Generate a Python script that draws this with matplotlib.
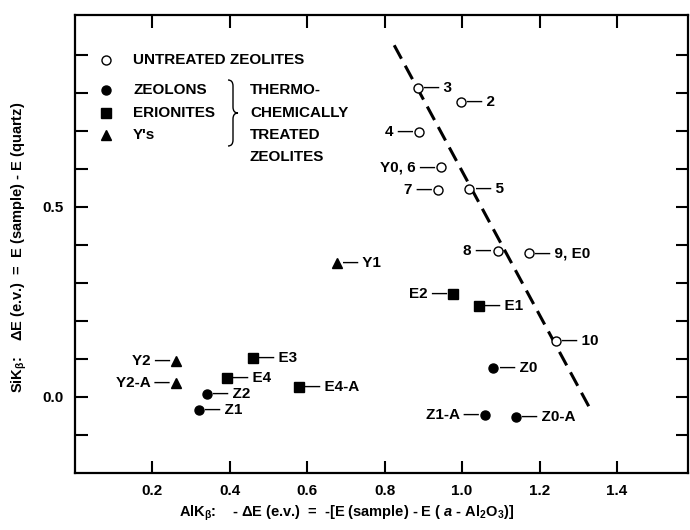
import numpy as np
import matplotlib
matplotlib.use("Agg")
import matplotlib.pyplot as plt
from matplotlib.path import Path
from matplotlib.patches import PathPatch

plt.rcParams['font.family'] = ['Liberation Sans', 'DejaVu Sans']
plt.rcParams['font.weight'] = 'bold'
plt.rcParams['mathtext.fontset'] = 'custom'
plt.rcParams['mathtext.rm'] = 'Liberation Sans:bold'
plt.rcParams['mathtext.it'] = 'Liberation Sans:italic'
plt.rcParams['mathtext.bf'] = 'Liberation Sans:bold'
plt.rcParams['mathtext.default'] = 'regular'

# untreated zeolites (open circles)
untreated_names = ["3", "2", "4", "Y0, 6", "7", "5", "8", "9, E0", "10"]
untreated_x = [0.887, 0.997, 0.890, 0.946, 0.939, 1.019, 1.092, 1.173, 1.242]
untreated_y = [0.812, 0.775, 0.696, 0.604, 0.545, 0.547, 0.384, 0.378, 0.146]

# zeolons (filled circles)
zeolon_names = ["Z0", "Z1-A", "Z0-A", "Z2", "Z1"]
zeolon_x = [1.081, 1.060, 1.139, 0.341, 0.321]
zeolon_y = [0.077, -0.047, -0.052, 0.007, -0.034]

# erionites (squares)
erionite_names = ["E2", "E1", "E3", "E4", "E4-A"]
erionite_x = [0.978, 1.044, 0.461, 0.393, 0.579]
erionite_y = [0.271, 0.239, 0.103, 0.051, 0.025]

# Y's (triangles)
y_names = ["Y1", "Y2", "Y2-A"]
y_x = [0.677, 0.262, 0.262]
y_y = [0.352, 0.095, 0.036]

# dashed trend line
line_x = [0.825, 1.33]
line_y = [0.925, -0.03]

left_labelled = {"4", "Y0, 6", "7", "8", "E2", "Z1-A", "Y2", "Y2-A"}

x_ticks = [0.2, 0.4, 0.6, 0.8, 1.0, 1.2, 1.4]
y_ticks = np.round(np.arange(-0.1, 0.95, 0.1), 1)
y_labelled = [0.0, 0.5]

fs = 11

fig = plt.figure(figsize=(6.9, 5.3), dpi=100)
ax = fig.add_axes([0.108, 0.1075, 0.889, 0.8645])
ax.set_xlim(0, 1.583)
ax.set_ylim(-0.2, 1.005)

ax.plot(line_x, line_y, color='black', lw=2.2, linestyle=(0, (5, 2.6)), zorder=1)

ms = 6.5
ax.plot(untreated_x, untreated_y, 'o', ms=ms, mfc='white', mec='black', mew=1, ls='none', zorder=3)
ax.plot(zeolon_x, zeolon_y, 'o', ms=ms, color='black', ls='none', zorder=3)
ax.plot(erionite_x, erionite_y, 's', ms=ms, color='black', ls='none', zorder=3)
ax.plot(y_x, y_y, '^', ms=ms + 0.5, color='black', ls='none', zorder=3)

def label_points(names, xs, ys):
    for n, x, y in zip(names, xs, ys):
        if n in left_labelled:
            ax.annotate(n + " \u2014", (x, y), xytext=(-4.5, 0), textcoords='offset points',
                        ha='right', va='center', fontsize=fs, fontweight='bold')
        else:
            ax.annotate("\u2014 " + n, (x, y), xytext=(4.5, 0), textcoords='offset points',
                        ha='left', va='center', fontsize=fs, fontweight='bold')

label_points(untreated_names, untreated_x, untreated_y)
label_points(zeolon_names, zeolon_x, zeolon_y)
label_points(erionite_names, erionite_x, erionite_y)
label_points(y_names, y_x, y_y)

# ticks
ax.set_xticks(x_ticks)
ax.set_xticklabels([f"{v:.1f}" for v in x_ticks])
ax.set_yticks(y_ticks)
ax.set_yticklabels([f"{v:.1f}" if v in y_labelled else "" for v in y_ticks])
ax.tick_params(direction='in', length=9, width=1.5, top=True, right=True,
               labelsize=fs, pad=8)
for sp in ax.spines.values():
    sp.set_linewidth(1.6)

# legend drawn as text in pixel positions
def px(x, y):
    return x / 690, 1 - y / 530

leg_markers = [('o', 'white'), ('o', 'black'), ('s', 'black'), ('^', 'black')]
leg_texts = ["UNTREATED ZEOLITES", "ZEOLONS", "ERIONITES", "Y's"]
leg_rows = [60, 90, 113, 135]
for (m, fc), t, yy in zip(leg_markers, leg_texts, leg_rows):
    fx, fy = px(106, yy)
    fig.add_artist(plt.Line2D([fx], [fy], marker=m, ms=ms, mfc=fc, mec='black', mew=1,
                              transform=fig.transFigure, ls='none'))
    fig.text(*px(133, yy), t, ha='left', va='center', fontsize=fs, fontweight='bold')

for t, yy in zip(["THERMO-", "CHEMICALLY", "TREATED", "ZEOLITES"], [90, 113, 135, 157]):
    fig.text(*px(250, yy), t, ha='left', va='center', fontsize=fs, fontweight='bold')

brace_pts = [(228, 80), (233, 80), (233, 86), (233, 107), (233, 113), (238, 113),
             (233, 113), (233, 119), (233, 140), (233, 146), (228, 146)]
codes = [Path.MOVETO, Path.CURVE3, Path.CURVE3, Path.LINETO, Path.CURVE3, Path.CURVE3,
         Path.CURVE3, Path.CURVE3, Path.LINETO, Path.CURVE3, Path.CURVE3]
brace = Path([px(*p) for p in brace_pts], codes)
fig.add_artist(PathPatch(brace, fc='none', ec='black', lw=1, transform=fig.transFigure))

# axis labels
fig.text(*px(19, 247), r"SiK$_\beta$:    $\Delta$E (e.v.)  =  E (sample) - E (quartz)",
         rotation=90, ha='center', va='center', fontsize=10.5, fontweight='bold')
fig.text(*px(347, 513),
         r"AlK$_\beta$:    - $\Delta$E (e.v.)  =  -[E (sample) - E ( $\it{a}$ - Al$_2$O$_3$)]",
         ha='center', va='center', fontsize=10.5, fontweight='bold')

fig.savefig("out.png", dpi=100)
